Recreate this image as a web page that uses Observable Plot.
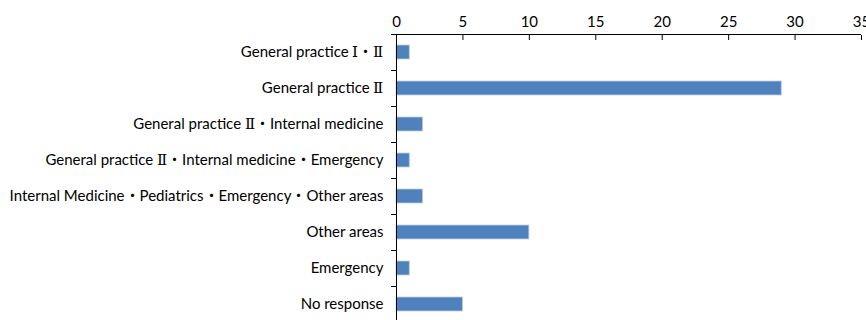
<!DOCTYPE html>
<html>
<head>
<meta charset="utf-8">
<script src="https://cdn.jsdelivr.net/npm/d3@7"></script>
<script src="https://cdn.jsdelivr.net/npm/@observablehq/plot@0.6"></script>
<style>
@font-face {
  font-family: "RomanPart";
  src: local("DejaVu Serif"), local("DejaVuSerif");
  unicode-range: U+2160-217F;
}
@font-face {
  font-family: "CJKPart";
  src: local("Noto Sans CJK JP"), local("Noto Sans CJK JP Regular"), local("NotoSansCJKjp-Regular");
  unicode-range: U+2160-217F, U+30FB;
}
html, body { margin: 0; padding: 0; background: #fff; overflow: hidden; }
</style>
</head>
<body>
<div id="chart"></div>
<script>
const categories = [
  "General practice Ⅰ・Ⅱ",
  "General practice Ⅱ",
  "General practice Ⅱ・Internal medicine",
  "General practice Ⅱ・Internal medicine・Emergency",
  "Internal Medicine・Pediatrics・Emergency・Other areas",
  "Other areas",
  "Emergency",
  "No response"
];
const values = [1, 29, 2, 1, 2, 10, 1, 5];
const xTicks = [0, 5, 10, 15, 20, 25, 30, 35];

const data = categories.map((c, i) => ({category: c, value: values[i], i}));

const chart = Plot.plot({
  width: 866,
  height: 320,
  marginTop: 34,
  marginLeft: 396,
  marginRight: 5,
  marginBottom: -2,
  style: {fontFamily: "RomanPart, CJKPart, Lato, 'Noto Sans CJK JP', sans-serif", fontSize: "15px", color: "#000", background: "#fff"},
  x: {domain: [0, 35], label: null},
  y: {domain: [0, categories.length], reverse: true, label: null},
  marks: [
    Plot.rectX(data, {x1: 0, x2: "value", y1: d => d.i, y2: d => d.i + 1, insetTop: 11, insetBottom: 11, fill: "#4F81BD", stroke: "#B9CDE5", strokeWidth: 0.8}),
    Plot.ruleY([0], {stroke: "#000", strokeWidth: 1}),
    Plot.ruleX([0], {stroke: "#000", strokeWidth: 1}),
    Plot.axisX({anchor: "top", label: null, ticks: xTicks, tickSize: -5, tickPadding: 13, tickFormat: d => String(d), fontSize: 15}),
    Plot.axisY({anchor: "left", label: null, ticks: d3.range(categories.length + 1), tickSize: 5, tickFormat: () => ""}),
    Plot.axisY({anchor: "left", label: null, ticks: categories.map((c, i) => i + 0.5), tickSize: 0, tickPadding: 13, tickFormat: v => categories[Math.floor(v)], fontSize: 15})
  ]
});
document.getElementById("chart").appendChild(chart);
</script>
</body>
</html>
